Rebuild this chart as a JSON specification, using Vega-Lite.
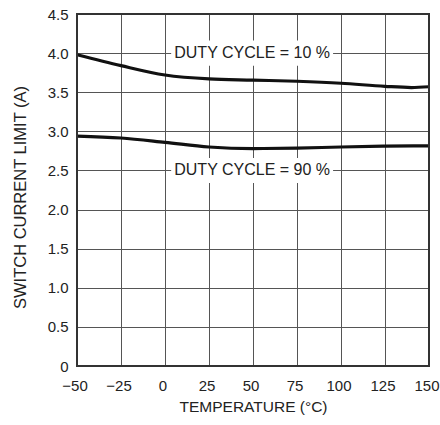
{
  "$schema": "https://vega.github.io/schema/vega-lite/v6.json",
  "width": 352,
  "height": 352,
  "autosize": "none",
  "padding": {"left": 77, "top": 14, "right": 11, "bottom": 59},
  "background": "white",
  "config": {
    "view": {"stroke": null},
    "font": "Liberation Sans",
    "axis": {
      "labelFont": "Liberation Sans",
      "titleFont": "Liberation Sans",
      "labelColor": "#222",
      "titleColor": "#222",
      "labelFontSize": 15,
      "titleFontSize": 15.5,
      "titleFontWeight": "normal",
      "gridColor": "#555",
      "gridOpacity": 1,
      "gridWidth": 1,
      "ticks": false,
      "domain": false,
      "labelOverlap": false
    }
  },
  "datasets": {
    "curves": [
      {"x": -50, "y": 3.98, "d": "10"},
      {"x": -25, "y": 3.84, "d": "10"},
      {"x": 0, "y": 3.72, "d": "10"},
      {"x": 25, "y": 3.67, "d": "10"},
      {"x": 50, "y": 3.655, "d": "10"},
      {"x": 75, "y": 3.64, "d": "10"},
      {"x": 100, "y": 3.615, "d": "10"},
      {"x": 125, "y": 3.575, "d": "10"},
      {"x": 140, "y": 3.56, "d": "10"},
      {"x": 150, "y": 3.57, "d": "10"},
      {"x": -50, "y": 2.94, "d": "90"},
      {"x": -25, "y": 2.915, "d": "90"},
      {"x": 0, "y": 2.86, "d": "90"},
      {"x": 25, "y": 2.8, "d": "90"},
      {"x": 50, "y": 2.78, "d": "90"},
      {"x": 75, "y": 2.785, "d": "90"},
      {"x": 100, "y": 2.8, "d": "90"},
      {"x": 125, "y": 2.81, "d": "90"},
      {"x": 150, "y": 2.815, "d": "90"}
    ],
    "labels": [
      {"x": 49.5, "y": 4.0, "text": "DUTY CYCLE = 10 %"},
      {"x": 49.5, "y": 2.5, "text": "DUTY CYCLE = 90 %"}
    ],
    "boxes": [
      {"x": 3.5, "xe": 95.5, "y": 3.84, "ye": 4.16},
      {"x": 3.5, "xe": 95.5, "y": 2.34, "ye": 2.66}
    ],
    "frame": [{"x": -50, "xe": 150, "y": 0, "ye": 4.5}]
  },
  "encoding": {
    "x": {
      "field": "x", "type": "quantitative",
      "scale": {"domain": [-50, 150], "nice": false, "zero": false},
      "axis": {"values": [-50, -25, 0, 25, 50, 75, 100, 125, 150], "title": "TEMPERATURE (°C)", "labelPadding": 12, "titlePadding": 6, "labelFlush": false, "labelOffset": -2.5}
    },
    "y": {
      "field": "y", "type": "quantitative",
      "scale": {"domain": [0, 4.5], "nice": false},
      "axis": {"values": [0, 0.5, 1, 1.5, 2, 2.5, 3, 3.5, 4, 4.5], "labelExpr": "datum.value == 0 ? '0' : format(datum.value, '.1f')", "title": "SWITCH CURRENT LIMIT (A)", "titleFontSize": 16.5, "titleY": 183, "labelPadding": 9, "titlePadding": 19}
    }
  },
  "layer": [
    {
      "data": {"name": "curves"},
      "mark": {"type": "line", "color": "#111", "strokeWidth": 3.2, "interpolate": "monotone"},
      "encoding": {"detail": {"field": "d"}}
    },
    {
      "data": {"name": "boxes"},
      "mark": {"type": "rect", "fill": "white"},
      "encoding": {"x2": {"field": "xe"}, "y2": {"field": "ye"}}
    },
    {
      "data": {"name": "labels"},
      "mark": {"type": "text", "fontSize": 16, "color": "#222", "align": "center", "baseline": "middle", "font": "Liberation Sans"},
      "encoding": {"text": {"field": "text"}}
    },
    {
      "data": {"name": "frame"},
      "mark": {"type": "rect", "fill": null, "stroke": "#333", "strokeWidth": 2},
      "encoding": {"x2": {"field": "xe"}, "y2": {"field": "ye"}}
    }
  ]
}
